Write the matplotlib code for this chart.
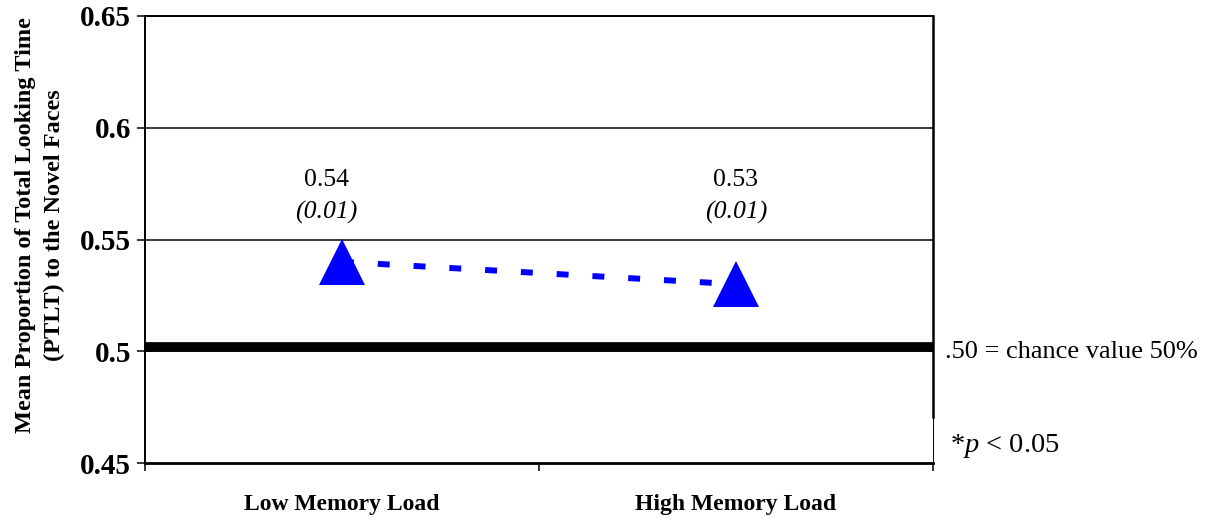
import numpy as np
import matplotlib
matplotlib.use("Agg")
import matplotlib.pyplot as plt

plt.rcParams['font.family'] = ['Liberation Serif', 'DejaVu Serif']
plt.rcParams['mathtext.fontset'] = 'custom'
plt.rcParams['mathtext.rm'] = 'Liberation Serif'
plt.rcParams['mathtext.it'] = 'Liberation Serif:italic'

# data
categories = ["Low Memory Load", "High Memory Load"]
means = [0.54, 0.53]
sems = [0.01, 0.01]
chance = 0.502
yticks = [0.45, 0.5, 0.55, 0.6, 0.65]
ytick_labels = ["0.45", "0.5", "0.55", "0.6", "0.65"]

fig = plt.figure(figsize=(12.14, 5.2), dpi=100)
ax = fig.add_axes([145 / 1214, 1 - 463 / 520, (933 - 145) / 1214, (463 - 16) / 520])

xpos = np.arange(len(categories)) + 0.5
ax.set_xlim(0, 2)
ax.set_ylim(0.45, 0.65)

# gridlines
for y in yticks[1:]:
    ax.axhline(y, color="black", lw=1.1, zorder=1)

# chance line
ax.axhline(chance, color="black", lw=7, zorder=2)

# dashed connecting line + triangles
ax.plot(xpos, means, color="#0000ff", lw=4.3, dashes=(2.0, 4.0), zorder=3)
ax.plot(xpos, means, ls="none", marker="^", markersize=33, color="#0000ff",
        markeredgewidth=0, zorder=4)

# value labels sit at a fixed height above the points
label_dx = [-11, 0]
for x, m, s, dx in zip(xpos, means, sems, label_dx):
    ax.annotate(f"{m:.2f}", (x, 0.5766), xytext=(dx, 0), textcoords="offset points",
                ha="center", va="center", fontsize=18.5)
    ax.annotate(f"({s:.2f})", (x, 0.5623), xytext=(dx, 0), textcoords="offset points",
                ha="center", va="center", fontsize=18.5, style="italic")

ax.set_yticks(yticks)
ax.set_yticklabels(ytick_labels, fontsize=21, fontweight="bold")
ax.set_xticks([0, 1, 2])
ax.set_xticklabels([])
ax.set_xticks(xpos, minor=True)
ax.set_xticklabels(categories, minor=True, fontsize=17, fontweight="bold")
ax.tick_params(axis="x", which="minor", length=0, pad=22)
ax.tick_params(axis="x", which="major", length=6, width=1.1, direction="out")
ax.tick_params(axis="y", length=6, width=1.1, direction="out", pad=4)

for side in ["left", "top"]:
    ax.spines[side].set_linewidth(1.4)
ax.spines["bottom"].set_linewidth(2)
ax.spines["right"].set_linewidth(1.8)
ax.spines["right"].set_bounds(0.4706, 0.65)
ax.plot([2, 2], [0.45, 0.4706], color="black", lw=0.7, clip_on=False, zorder=5)

fig.text(40 / 1214, 1 - 225 / 520,
         "Mean Proportion of Total Looking Time\n(PTLT) to the Novel Faces",
         rotation=90, ha="center", va="center", fontsize=17.5, fontweight="bold",
         multialignment="center", linespacing=1.45)

fig.text(945 / 1214, 1 - 352 / 520, ".50 = chance value 50%", fontsize=19,
         ha="left", va="center")
fig.text(950 / 1214, 1 - 446 / 520, "*$\\mathit{p}$ < 0.05", fontsize=20.5,
         ha="left", va="center")

fig.savefig("out.png", dpi=100)
